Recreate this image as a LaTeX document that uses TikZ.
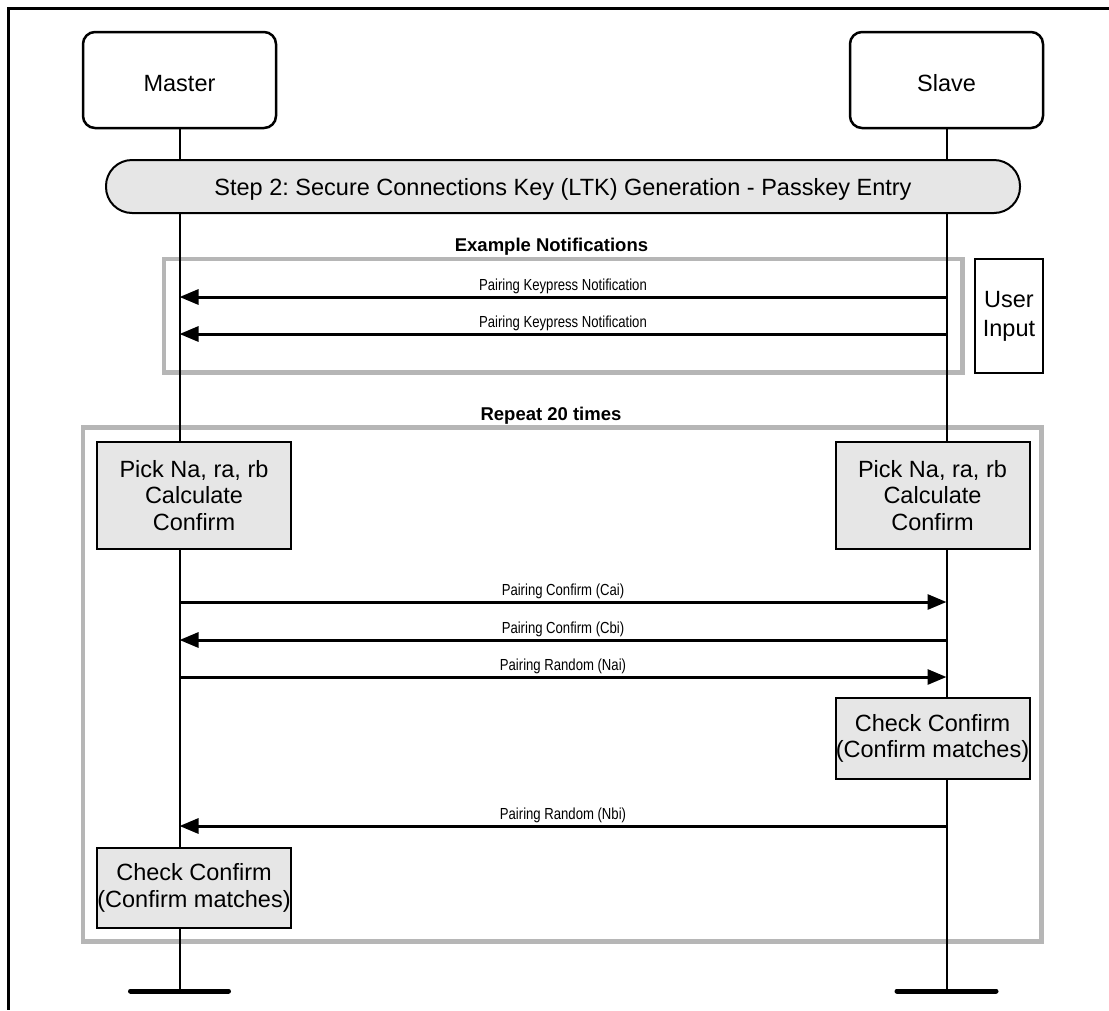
\documentclass[tikz,border=0pt]{standalone}
\usepackage{fontspec}
\setmainfont{Liberation Sans}
\usepackage{xcolor}
\usepackage{tikz}
\usetikzlibrary{arrows.meta}

\definecolor{boxgray}{RGB}{230,230,230}
\definecolor{framegray}{RGB}{182,182,182}
\newcommand{\msgtext}[1]{\scalebox{0.82}[1]{#1}}
\frenchspacing

\begin{document}
\begin{tikzpicture}[x=1pt, y=-1pt,
    actor/.style={draw, line width=2.5pt, rounded corners=12pt, minimum width=193pt, minimum height=96pt, inner sep=0pt, font=\fontsize{23.5}{26.5}\selectfont, text height=22pt, text depth=0pt},
    banner/.style={draw, line width=2pt, fill=boxgray, rounded corners=26pt, minimum width=914pt, minimum height=53pt, inner sep=0pt, font=\fontsize{23.5}{26.5}\selectfont, text height=17pt, text depth=0pt},
    procbox/.style={draw, line width=2pt, fill=boxgray, minimum width=194pt, inner sep=0pt, align=center, font=\fontsize{23.5}{26.5}\selectfont},
    frame/.style={draw=framegray, line width=4.5pt},
    lifeline/.style={line width=2pt},
    endbar/.style={line width=5pt, line cap=round},
    msg/.style={line width=3pt, -{Triangle[length=19pt, width=15pt]}},
    msglbl/.style={anchor=base, yshift=7pt, inner sep=0pt, font=\fontsize{16}{18}\selectfont},
    title/.style={anchor=base, inner sep=0pt, font=\fontsize{18.5}{20}\selectfont\bfseries}]
  \useasboundingbox (0,0) rectangle (1109,1010);

  % page frame
  \draw[line width=3pt] (1109,8) -- (8,8) -- (8,1010);

  % loops
  \draw[frame] (164,259) rectangle (962.5,372.5);
  \draw[frame] (83,427.5) rectangle (1041.5,941.5);

  % actors and lifelines
  \node[actor] (master) at (179.5,80) {Master};
  \node[actor] (slave) at (946.5,80) {Slave};
  \coordinate (mEnd) at (179.5,991);
  \coordinate (sEnd) at (946.5,991);
  \draw[lifeline] (master.south) -- (mEnd);
  \draw[lifeline] (slave.south) -- (sEnd);
  \draw[endbar] ([xshift=-49pt]mEnd) -- ([xshift=49pt]mEnd);
  \draw[endbar] ([xshift=-49.5pt]sEnd) -- ([xshift=49.5pt]sEnd);

  \node[banner] (step) at (563,186.5) {Step 2: Secure Connections Key (LTK) Generation - Passkey Entry};

  % notifications
  \node[title] (exnote) at (551.5,251) {Example Notifications};
  \node[draw, line width=1.3pt, minimum width=68pt, minimum height=114pt, inner sep=0pt, align=center, font=\fontsize{23.5}{29}\selectfont] (user) at (1009,316) {User\\Input};

  \coordinate (m1) at (179.5,297);  \coordinate (s1) at (946.5,297);
  \coordinate (m2) at (179.5,334);  \coordinate (s2) at (946.5,334);
  \draw[msg] (s1) -- node[msglbl] {\msgtext{Pairing Keypress Notification}} (m1);
  \draw[msg] (s2) -- node[msglbl] {\msgtext{Pairing Keypress Notification}} (m2);

  % repeated part
  \node[title] (repeat) at (551,420) {Repeat 20 times};
  \node[procbox, minimum height=107pt] (pickM) at (194,495.5) {Pick Na, ra, rb\\Calculate\\Confirm};
  \node[procbox, minimum height=107pt] (pickS) at (932.5,495.5) {Pick Na, ra, rb\\Calculate\\Confirm};

  \coordinate (m3) at (179.5,602);  \coordinate (s3) at (946.5,602);
  \coordinate (m4) at (179.5,640);  \coordinate (s4) at (946.5,640);
  \coordinate (m5) at (179.5,677);  \coordinate (s5) at (946.5,677);
  \coordinate (m6) at (179.5,826);  \coordinate (s6) at (946.5,826);
  \draw[msg] (m3) -- node[msglbl] {\msgtext{Pairing Confirm (Cai)}} (s3);
  \draw[msg] (s4) -- node[msglbl] {\msgtext{Pairing Confirm (Cbi)}} (m4);
  \draw[msg] (m5) -- node[msglbl] {\msgtext{Pairing Random (Nai)}} (s5);

  \node[procbox, minimum height=81pt] (checkS) at (932.5,738.5) {Check Confirm\\(Confirm matches)};

  \draw[msg] (s6) -- node[msglbl] {\msgtext{Pairing Random (Nbi)}} (m6);

  \node[procbox, minimum height=80pt] (checkM) at (194,888) {Check Confirm\\(Confirm matches)};
\end{tikzpicture}
\end{document}
